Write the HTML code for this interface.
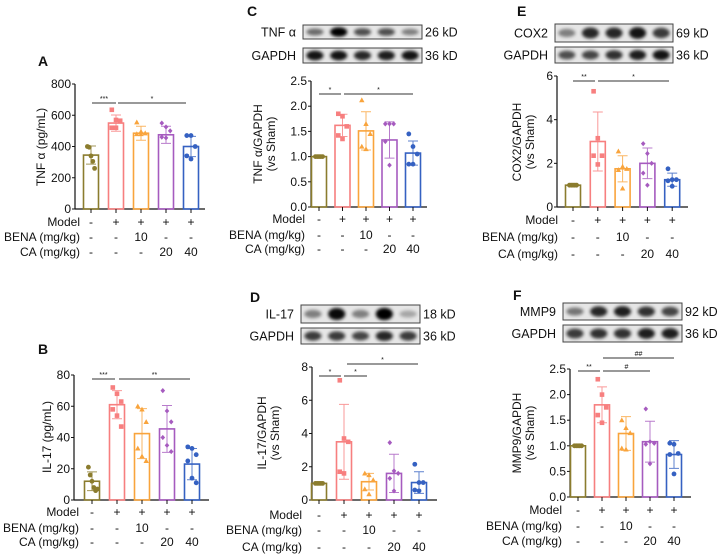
<!DOCTYPE html>
<html><head><meta charset="utf-8">
<style>
html,body{margin:0;padding:0;background:#fff;}
svg{display:block;font-family:"Liberation Sans",Arial,sans-serif;}
</style></head>
<body>
<svg id="fig" width="720" height="558" viewBox="0 0 720 558" xmlns="http://www.w3.org/2000/svg">
<defs>
<filter id="blur1" x="-50%" y="-50%" width="200%" height="200%"><feGaussianBlur stdDeviation="1.6"/></filter>
</defs>
</svg>
<script>
// ---- Data ----
const groups = ["Sham","Model","BENA10","CA20","CA40"];
const colors = ["#8b7c2e","#f77f7f","#f9a43c","#a65bbf","#3561c2"];
const modelRow = ["-","+","+","+","+"];
const benaRow = ["-","-","10","-","-"];
const caRow = ["-","-","-","20","40"];

const aMeans = [345,550,485,475,400];
const aSD = [58,52,45,55,65];
const aPoints = [[400,395,340,305,260],[635,570,565,520,520],[555,495,485,480,480],[550,525,500,460,455],[470,470,400,340,320]];
const aTicks = [0,200,400,600,800];

const bMeans = [12,61,42.5,45.5,23];
const bSD = [6,9,16,15,10];
const bPoints = [[21,16,12,8,6,7],[72,68,63,58,54,47],[60,58,50,33,28,25],[70,57,50,40,35,31],[34,33,29,25,14,11]];
const bTicks = [0,20,40,60,80];

const cMeans = [1.0,1.62,1.51,1.33,1.07];
const cSD = [0.02,0.22,0.38,0.36,0.24];
const cPoints = [[1,1,1,1,1],[1.85,1.8,1.6,1.42,1.35],[2.12,1.65,1.45,1.2,1.15],[1.65,1.65,1.65,1.3,0.83],[1.45,1.2,1.05,0.85,0.85]];
const cTicks = [0,0.5,1.0,1.5,2.0,2.5];

const dMeans = [1.0,3.5,1.1,1.6,1.05];
const dSD = [0.02,2.25,0.5,1.15,0.65];
const dPoints = [[1,1,1,1,1],[7.2,3.7,3.5,1.7,1.6],[1.6,1.5,1.2,0.65,0.35],[3.45,1.75,1.6,1.3,0.55],[2.15,1.05,1.05,0.6,0.55]];
const dTicks = [0,2,4,6,8];

const eMeans = [1.0,3.0,1.75,2.0,1.25];
const eSD = [0.03,1.35,0.6,0.7,0.3];
const ePoints = [[1,1,1,1,1],[5.3,3.15,2.35,2.35,1.95],[2.55,1.85,1.75,1.7,0.85],[2.9,2.45,2.0,1.55,1.0],[1.75,1.25,1.25,1.2,0.95]];
const eTicks = [0,2,4,6];

const fMeans = [1.0,1.8,1.24,1.08,0.83];
const fSD = [0.01,0.35,0.33,0.4,0.27];
const fPoints = [[1,1,1,1,1],[2.3,2.0,1.75,1.6,1.45],[1.5,1.35,1.25,0.95,0.93],[1.72,1.08,1.05,1.03,0.65],[1.05,1.03,0.85,0.83,0.45]];
const fTicks = [0,0.5,1.0,1.5,2.0,2.5];

const cBand1 = [0.45,1.0,0.6,0.6,0.35];
const cBand2 = [0.9,0.9,0.8,0.85,0.9];
const dBand1 = [0.35,0.95,0.35,1.0,0.15];
const dBand2 = [0.7,0.7,0.65,0.8,0.7];
const eBand1 = [0.35,0.8,0.8,0.9,0.7];
const eBand2 = [0.6,0.65,0.75,0.85,0.9];
const fBand1 = [0.4,0.8,0.85,0.75,0.65];
const fBand2 = [0.7,0.75,0.75,0.85,0.85];

const NS="http://www.w3.org/2000/svg";
const svg=document.getElementById('fig');
function el(tag,attrs,parent){const e=document.createElementNS(NS,tag);for(const k in attrs)e.setAttribute(k,attrs[k]);(parent||svg).appendChild(e);return e;}
function txt(s,x,y,attrs,parent){const t=el('text',Object.assign({x:x,y:y,'font-size':11,fill:'#111'},attrs||{}),parent);t.textContent=s;return t;}

function marker(g,shape,x,y,c){
  let m;
  if(shape===0||shape===4){m=el('circle',{cx:x,cy:y,r:2.4,fill:c},g);}
  else if(shape===1){m=el('rect',{x:x-2.3,y:y-2.3,width:4.6,height:4.6,fill:c},g);}
  else if(shape===2){m=el('polygon',{points:`${x},${y-2.8} ${x+2.7},${y+2.1} ${x-2.7},${y+2.1}`,fill:c},g);}
  else {m=el('polygon',{points:`${x},${y-2.6} ${x+2.3},${y} ${x},${y+2.6} ${x-2.3},${y}`,fill:c},g);}
  
  
}

function panel(p){
  const g=el('g',{});
  
  
  const ymax=p.ticks[p.ticks.length-1];
  const Y=v=>p.y0-(v/ymax)*(p.y0-p.yTop);
  const X=i=>p.x1+i*p.step;
  const t=txt(p.letter,p.lx,p.ly,{'font-size':14,'font-weight':'bold'},g);
  
  const ya=el('line',{x1:p.xa,y1:p.yTop,x2:p.xa,y2:p.y0,stroke:'#111','stroke-width':1.2},g);
  
  const xa=el('line',{x1:p.xa,y1:p.y0,x2:p.xEnd,y2:p.y0,stroke:'#111','stroke-width':1.2},g);
  
  p.ticks.forEach(v=>{
    el('line',{x1:p.xa-3,y1:Y(v),x2:p.xa,y2:Y(v),stroke:'#111','stroke-width':1},g);
    const tl=txt(p.fmt(v),p.xa-4,Y(v)+4,{'text-anchor':'end','font-size':12},g);
    
  });
  const ty=el('text',{transform:`translate(${p.tx},${p.ty}) rotate(-90)`,'text-anchor':'middle','font-size':12,fill:'#111'},g);
  
  p.title.forEach((s,i)=>{const ts=el('tspan',{x:0,dy:i?13:0},ty);ts.textContent=s;});
  p.means.forEach((m,i)=>{
    const x=X(i),c=colors[i];
    const b=el('rect',{x:x-7.5,y:Y(m),width:15,height:p.y0-Y(m),fill:'none',stroke:c,'stroke-width':1.6},g);
    
    el('line',{x1:x,y1:p.y0,x2:x,y2:p.y0+4,stroke:'#111','stroke-width':1},g);
    const sd=p.sd[i];
    const e=el('path',{d:`M${x} ${Y(m+sd)}V${Y(Math.max(0,m-sd))}M${x-5} ${Y(m+sd)}H${x+5}M${x-5} ${Y(Math.max(0,m-sd))}H${x+5}`,stroke:c,'stroke-width':1,fill:'none',opacity:0.8},g);
    
    const pts=p.points[i];
    pts.forEach((v,j)=>{const off=i===0?(j-2)*1.8:(j%3-1)*4.2;marker(g,i,x+off,Y(v),c);});
  });
  const rows=[["Model",modelRow],["BENA (mg/kg)",benaRow],["CA (mg/kg)",caRow]];
  rows.forEach((r,k)=>{
    const ry=p.rows[k];
    const rl=txt(r[0],p.rx,ry+4,{'text-anchor':'end','font-size':12},g);
    
    r[1].forEach((s,i)=>{txt(s,X(i),ry+4,{'text-anchor':'middle','font-size':12},g);});
  });
  p.sig.forEach(s=>{
    const l=el('line',{x1:s[0],y1:s[2],x2:s[1],y2:s[2],stroke:'#333','stroke-width':1},g);
    
    txt(s[3],(s[0]+s[1])/2,s[2]-2,{'text-anchor':'middle','font-size':7},g);
  });
  if(p.blot){
    const bl=p.blot;
    [[bl.y1,bl.h1,bl.b1,p.blot.lab1,p.blot.kd1],[bl.y2,bl.h2,bl.b2,'GAPDH','36 kD']].forEach((r,k)=>{
      const bg=el('g',{},g);
      
      el('rect',{x:bl.x0,y:r[0],width:bl.x1-bl.x0,height:r[1],fill:'#e6e6e6',stroke:'#444','stroke-width':1},bg);
      const lw=(bl.x1-bl.x0)/5;
      r[2].forEach((v,i)=>{
        el('ellipse',{cx:bl.x0+lw*(i+0.5),cy:r[0]+r[1]/2,rx:lw*0.36,ry:r[1]*0.17+r[1]*0.17*v,fill:'#000',opacity:0.15+0.85*v,filter:'url(#blur1)'},bg);
      });
      txt(r[3],bl.x0-7,r[0]+r[1]/2+4.5,{'text-anchor':'end','font-size':12.5},bg);
      txt(r[4],bl.x1+3,r[0]+r[1]/2+4.5,{'font-size':12.5},bg);
    });
  }
}

const f1=v=>String(v), f2=v=>v.toFixed(1);
panel({name:'panel-a-tnf-elisa',letter:'A',lx:38,ly:66,xa:75,xEnd:205,yTop:84,y0:209,x1:91,step:25,ticks:aTicks,fmt:f1,means:aMeans,sd:aSD,points:aPoints,
  title:['TNF α (pg/mL)'],tx:45,ty:147,rows:[222,237,252],rx:80,sig:[[92,116,103,'***'],[118,186,103,'*']]});
panel({name:'panel-b-il17-elisa',letter:'B',lx:38,ly:354,xa:74,xEnd:209,yTop:375,y0:500,x1:92,step:25,ticks:bTicks,fmt:f1,means:bMeans,sd:bSD,points:bPoints,
  title:['IL-17 (pg/mL)'],tx:51,ty:437,rows:[512,528,542],rx:79,sig:[[92,115,379,'***'],[119,190,379,'**']]});
panel({name:'panel-c-tnf-western',letter:'C',lx:247,ly:16,xa:311,xEnd:427,yTop:81,y0:207,x1:319,step:23.5,ticks:cTicks,fmt:f2,means:cMeans,sd:cSD,points:cPoints,
  title:['TNF α/GAPDH','(vs Sham)'],tx:262,ty:144,rows:[219,235,249],rx:305,sig:[[319,341,94,'*'],[344,413,94,'*']],
  blot:{x0:303,x1:422,y1:25,h1:14,y2:48,h2:15,b1:cBand1,b2:cBand2,lab1:'TNF α',kd1:'26 kD'}});
panel({name:'panel-d-il17-western',letter:'D',lx:250,ly:302,xa:312,xEnd:437,yTop:367,y0:500,x1:319,step:25,ticks:dTicks,fmt:f1,means:dMeans,sd:dSD,points:dPoints,
  title:['IL-17/GAPDH','(vs Sham)'],tx:266,ty:433,rows:[515,530,547],rx:302,sig:[[319,341,376,'*'],[344,367,376,'*'],[347,418,364,'*']],
  blot:{x0:301,x1:420,y1:305,h1:18,y2:328,h2:16,b1:dBand1,b2:dBand2,lab1:'IL-17',kd1:'18 kD'}});
panel({name:'panel-e-cox2-western',letter:'E',lx:517,ly:16,xa:557,xEnd:688,yTop:76,y0:207,x1:573,step:24.8,ticks:eTicks,fmt:f1,means:eMeans,sd:eSD,points:ePoints,
  title:['COX2/GAPDH','(vs Sham)'],tx:521,ty:142,rows:[220,237,254],rx:558,sig:[[573,595,81,'**'],[598,669,81,'*']],
  blot:{x0:555,x1:673,y1:24,h1:18,y2:47,h2:16,b1:eBand1,b2:eBand2,lab1:'COX2',kd1:'69 kD'}});
panel({name:'panel-f-mmp9-western',letter:'F',lx:513,ly:300,xa:570,xEnd:691,yTop:369,y0:497,x1:578,step:24,ticks:fTicks,fmt:f2,means:fMeans,sd:fSD,points:fPoints,
  title:['MMP9/GAPDH','(vs Sham)'],tx:521,ty:433,rows:[510,526,541],rx:562,sig:[[578,600,371,'**'],[603,650,371,'#'],[603,674,358,'##']],
  blot:{x0:563,x1:682,y1:303,h1:17,y2:325,h2:17,b1:fBand1,b2:fBand2,lab1:'MMP9',kd1:'92 kD'}});
</script>
</body></html>
